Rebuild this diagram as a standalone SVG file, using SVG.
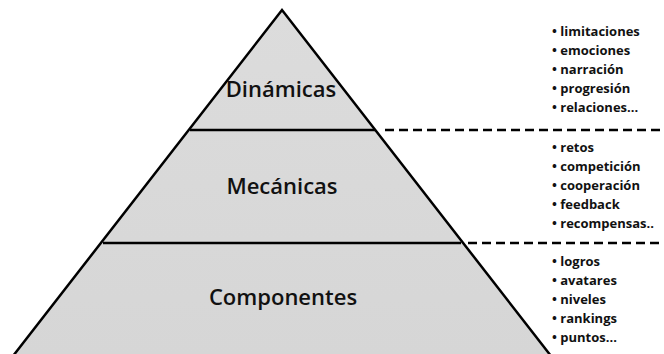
<svg xmlns="http://www.w3.org/2000/svg" width="664" height="354" viewBox="0 0 664 354">
<style>
.lvl{font-family:"Open Sans","Liberation Sans",sans-serif;font-size:22px;font-weight:600;fill:#111;text-anchor:middle}
.item{font-family:"Open Sans","Liberation Sans",sans-serif;font-size:13px;font-weight:700;fill:#111}
.edge{stroke:#000;stroke-width:2.5;fill:none}
.dash{stroke:#000;stroke-width:2.5;stroke-dasharray:9,5;fill:none}
</style>
<defs>
<linearGradient id="g" x1="0" y1="0" x2="0" y2="1">
<stop offset="0" stop-color="#dcdcdc"/><stop offset="1" stop-color="#d6d6d6"/>
</linearGradient>
</defs>
<rect width="664" height="354" fill="#fff"/>
<g id="pyramid">
<polygon points="282,10 551,356 13,356" fill="url(#g)"/>
</g>
<g id="connectors">
<path class="edge" d="M13,356 L282,10 L551,356"/>
<line class="edge" x1="190" y1="130" x2="375" y2="130"/>
<line class="edge" x1="103" y1="243" x2="461" y2="243"/>
<line class="dash" x1="385" y1="130" x2="664" y2="130"/>
<line class="dash" x1="468" y1="243" x2="664" y2="243"/>
</g>
<g id="dinamicas"><text class="lvl" x="281" y="97">Dinámicas</text></g>
<g id="mecanicas"><text class="lvl" x="282" y="194">Mecánicas</text></g>
<g id="componentes"><text class="lvl" x="283" y="305">Componentes</text></g>
<g id="list-dinamicas">
<text class="item" x="552" y="36">• limitaciones</text>
<text class="item" x="552" y="55">• emociones</text>
<text class="item" x="552" y="74">• narración</text>
<text class="item" x="552" y="93">• progresión</text>
<text class="item" x="552" y="112">• relaciones...</text>
</g>
<g id="list-mecanicas">
<text class="item" x="552" y="152">• retos</text>
<text class="item" x="552" y="171">• competición</text>
<text class="item" x="552" y="190">• cooperación</text>
<text class="item" x="552" y="209">• feedback</text>
<text class="item" x="552" y="228">• recompensas..</text>
</g>
<g id="list-componentes">
<text class="item" x="552" y="266">• logros</text>
<text class="item" x="552" y="285">• avatares</text>
<text class="item" x="552" y="304">• niveles</text>
<text class="item" x="552" y="323">• rankings</text>
<text class="item" x="552" y="342">• puntos...</text>
</g>
</svg>
